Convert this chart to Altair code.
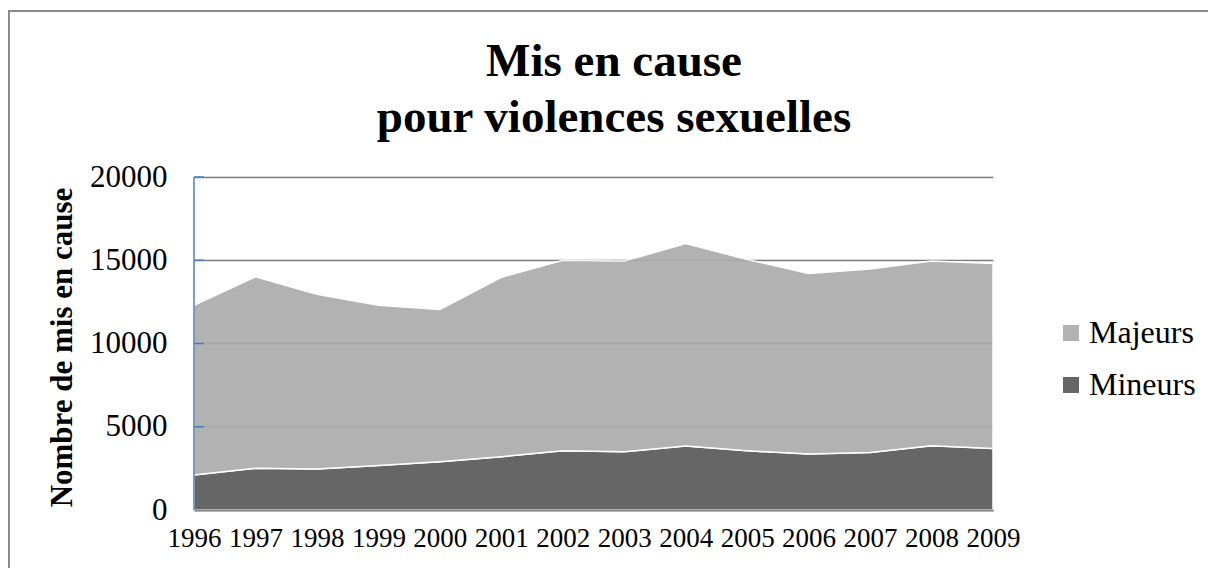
import altair as alt
import pandas as pd

# Persons implicated in sexual violence cases, France
years = [1996, 1997, 1998, 1999, 2000, 2001, 2002, 2003, 2004, 2005, 2006, 2007, 2008, 2009]
mineurs = [2100, 2500, 2460, 2680, 2900, 3200, 3560, 3500, 3840, 3560, 3360, 3460, 3860, 3700]
majeurs = [10200, 11500, 10490, 9620, 9150, 10770, 11440, 11450, 12160, 11490, 10840, 11010, 11090, 11100]

series = ["Majeurs", "Mineurs"]
series_colors = ["#b2b2b2", "#666666"]
y_ticks = [0, 5000, 10000, 15000, 20000]
title_lines = ["Mis en cause", "pour violences sexuelles"]
y_title = "Nombre de mis en cause"

rows = []
for i, yr in enumerate(years):
    rows.append({"annee": yr, "groupe": "Mineurs", "n": mineurs[i], "rang": 0})
    rows.append({"annee": yr, "groupe": "Majeurs", "n": majeurs[i], "rang": 1})
df = pd.DataFrame(rows)
inner_ticks_df = pd.DataFrame({"v": y_ticks[1:]})

W, H = 799, 333
SERIF = "Liberation Serif, Times New Roman, serif"

x_enc = alt.X(
    "annee:Q",
    scale=alt.Scale(domain=[years[0], years[-1]], nice=False, zero=False),
    axis=alt.Axis(
        values=years, format="d", title=None, grid=False, ticks=False,
        domainColor="#868686", domainWidth=2, labelFont=SERIF, labelFontSize=27,
        labelColor="#000000", labelPadding=15, labelFlush=False, zindex=1,
    ),
)
y_scale = alt.Scale(domain=[0, 20000], nice=False)

areas = alt.Chart(df).mark_area(
    stroke="white", strokeWidth=1.5, interpolate="linear"
).encode(
    x=x_enc,
    y=alt.Y(
        "n:Q", stack="zero", scale=y_scale,
        axis=alt.Axis(
            values=y_ticks, format="d", title=y_title, domain=False, ticks=False,
            tickSize=0, gridColor="#868686", gridWidth=1.5, labelFont=SERIF,
            labelFontSize=31, labelColor="#000000", labelPadding=27,
            titleFont=SERIF, titleFontSize=31, titleFontWeight="bold",
            titleColor="#000000", titleAngle=270, titleAlign="center",
            titleBaseline="middle", titleX=-132, titleY=170,
        ),
    ),
    color=alt.Color(
        "groupe:N",
        scale=alt.Scale(domain=series, range=series_colors),
        legend=alt.Legend(
            title=None, orient="none", legendX=861, legendY=140,
            symbolType="square", symbolSize=256, symbolStrokeWidth=0,
            labelFont=SERIF, labelFontSize=32, labelColor="#000000",
            labelOffset=2, rowPadding=20, padding=0,
        ),
    ),
    order=alt.Order("rang:Q"),
)

# faint gridlines showing through the filled areas
grid_overlay = alt.Chart(inner_ticks_df).mark_rule(
    color="#000000", opacity=0.06, strokeWidth=1.5
).encode(y=alt.Y("v:Q", scale=y_scale), x=alt.value(0), x2=alt.value(W))

# blue vertical axis line with inward ticks
y_axis_line = alt.Chart(pd.DataFrame({"a": [0], "b": [20000]})).mark_rule(
    color="#4a7ebb", strokeWidth=1.5
).encode(y=alt.Y("a:Q", scale=y_scale), y2="b:Q", x=alt.value(0))
y_axis_ticks = alt.Chart(inner_ticks_df).mark_rule(
    color="#4a7ebb", strokeWidth=1.5
).encode(y=alt.Y("v:Q", scale=y_scale), x=alt.value(0), x2=alt.value(10))

one = alt.Data(values=[{"k": 1}])
title = alt.Chart(one).mark_text(
    font=SERIF, fontSize=47, fontWeight="bold", align="center",
    baseline="alphabetic", lineHeight=56, color="#000000",
).encode(x=alt.value(420), y=alt.value(-101), text=alt.value(title_lines))

# outer chart frame (top and left edges)
frame_left = alt.Chart(one).mark_rule(color="#8a8a8a", strokeWidth=2).encode(
    x=alt.value(-185), y=alt.value(-166), y2=alt.value(H + 80)
)
frame_top = alt.Chart(one).mark_rule(color="#8a8a8a", strokeWidth=2).encode(
    x=alt.value(-186), x2=alt.value(W + 240), y=alt.value(-166)
)

chart = alt.layer(
    areas, grid_overlay, y_axis_line, y_axis_ticks, title, frame_left, frame_top
).properties(
    width=W, height=H,
    autosize=alt.AutoSizeParams(type="none"),
    padding={"left": 194, "top": 177, "right": 215, "bottom": 58},
    background="white",
).configure_view(stroke=None)

chart.save("out.html", embed_options={"renderer": "svg", "actions": False})
